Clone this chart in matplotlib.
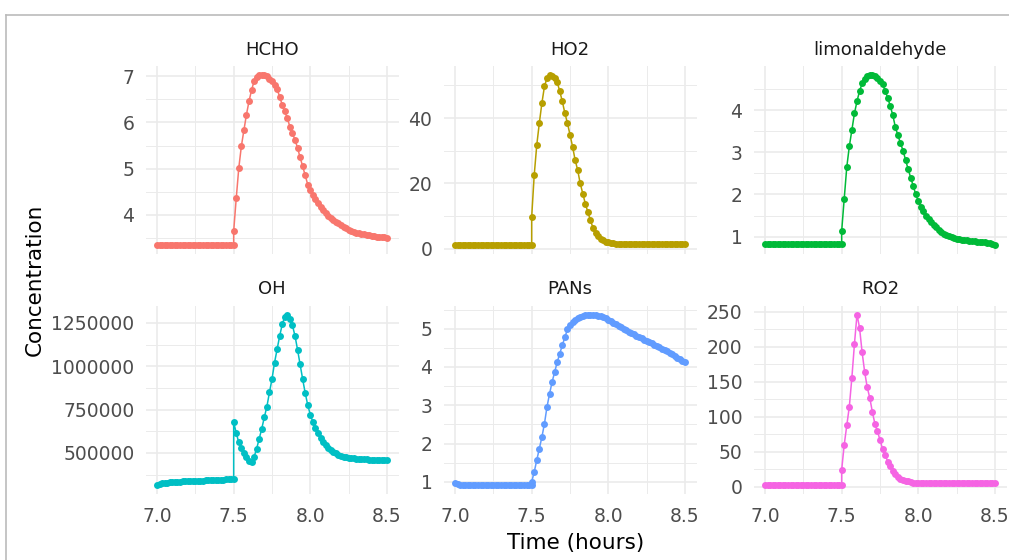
import numpy as np
import matplotlib
matplotlib.use("Agg")
import matplotlib.pyplot as plt
from matplotlib.lines import Line2D

# ---------------- data ----------------
# time grid in minutes: first stage 7.0-7.5 h, second stage 7.5-8.5 h (restart at 7.5 h)
minutes_pre = np.arange(420, 451)
minutes_post = np.arange(450, 511)

species = ["HCHO", "HO2", "limonaldehyde", "OH", "PANs", "RO2"]
colors = ["#F8766D", "#B79F00", "#00BA38", "#00BFC4", "#619CFF", "#F564E3"]

hcho_pre = [3.33, 3.33, 3.33, 3.33, 3.33, 3.33, 3.33, 3.33, 3.33, 3.33, 3.33,
            3.33, 3.33, 3.33, 3.33, 3.33, 3.33, 3.33, 3.33, 3.33, 3.33,
            3.33, 3.33, 3.33, 3.33, 3.33, 3.33, 3.33, 3.33, 3.33, 3.33]
hcho_post = [3.64, 4.35, 5.01, 5.48, 5.83, 6.17, 6.46, 6.70, 6.90, 6.98,
             7.02, 7.03, 7.02, 7.00, 6.95, 6.90, 6.82, 6.72, 6.56, 6.38,
             6.24, 6.09, 5.91, 5.77, 5.62, 5.45, 5.24, 5.05, 4.85, 4.65,
             4.53, 4.43, 4.34, 4.26, 4.17, 4.10, 4.04, 3.98, 3.93, 3.89,
             3.85, 3.81, 3.77, 3.74, 3.70, 3.67, 3.65, 3.63, 3.61, 3.595,
             3.58, 3.57, 3.56, 3.55, 3.54, 3.53, 3.52, 3.515, 3.51, 3.505, 3.50]

ho2_pre = [1.0, 1.0, 1.0, 1.0, 1.0, 1.0, 1.0, 1.0, 1.0, 1.0, 1.0,
           1.0, 1.0, 1.0, 1.0, 1.0, 1.0, 1.0, 1.0, 1.0, 1.0,
           1.0, 1.0, 1.0, 1.0, 1.0, 1.0, 1.0, 1.0, 1.0, 1.0]
ho2_post = [9.7, 22.6, 31.8, 38.5, 44.6, 49.7, 52.3, 53.2, 53.0, 52.4,
            51.0, 48.2, 45.1, 41.5, 38.5, 34.9, 31.3, 27.2, 24.1, 20.0,
            16.9, 13.8, 11.2, 8.7, 6.4, 4.8, 3.8, 3.1, 2.6, 2.2,
            2.0, 1.8, 1.7, 1.6, 1.55, 1.5, 1.5, 1.5, 1.5, 1.5,
            1.5, 1.48, 1.48, 1.47, 1.47, 1.46, 1.46, 1.45, 1.45, 1.45,
            1.44, 1.44, 1.44, 1.43, 1.43, 1.43, 1.42, 1.42, 1.42, 1.41, 1.41]

limon_pre = [0.82, 0.82, 0.82, 0.82, 0.82, 0.82, 0.82, 0.82, 0.82, 0.82, 0.82,
             0.82, 0.82, 0.82, 0.82, 0.82, 0.82, 0.82, 0.82, 0.82, 0.82,
             0.82, 0.82, 0.82, 0.82, 0.82, 0.82, 0.82, 0.82, 0.82, 0.82]
limon_post = [1.13, 1.90, 2.65, 3.14, 3.53, 3.92, 4.21, 4.45, 4.63, 4.74,
              4.80, 4.83, 4.83, 4.81, 4.77, 4.70, 4.61, 4.46, 4.29, 4.10,
              3.88, 3.60, 3.40, 3.22, 3.04, 2.82, 2.60, 2.40, 2.20, 2.00,
              1.84, 1.71, 1.60, 1.50, 1.42, 1.35, 1.28, 1.22, 1.16, 1.11,
              1.07, 1.04, 1.01, 0.99, 0.97, 0.955, 0.94, 0.93, 0.92, 0.91,
              0.90, 0.895, 0.89, 0.88, 0.875, 0.87, 0.865, 0.86, 0.855, 0.83, 0.79]

oh_pre = [315000, 320000, 324000, 327000, 329000, 331000, 332000, 333000,
          334000, 335000, 336000, 336500, 337000, 337500, 338000, 338500,
          339000, 340000, 340500, 341000, 342000, 343000, 344000, 345000,
          345500, 346000, 346500, 347000, 347000, 347000, 347000]
oh_post = [677000, 615000, 560000, 528000, 500000, 475000, 455000, 447000, 477000, 525000,
           582000, 640000, 706000, 767000, 849000, 926000, 1021000, 1098000, 1174000, 1241000,
           1285000, 1298000, 1270000, 1235000, 1175000, 1095000, 1010000, 925000, 845000, 775000,
           720000, 678000, 642000, 612000, 586000, 564000, 546000, 531000, 518000, 507000,
           498000, 490000, 484000, 479000, 475000, 472000, 470000, 468000, 466000, 465000,
           464000, 463000, 462000, 461000, 460500, 460000, 459500, 459000, 459000, 458500, 458000]

pans_pre = [0.97, 0.94, 0.93, 0.92, 0.92, 0.92, 0.92, 0.92, 0.92, 0.92, 0.92,
            0.92, 0.92, 0.92, 0.92, 0.92, 0.92, 0.92, 0.92, 0.92, 0.92,
            0.92, 0.92, 0.92, 0.92, 0.92, 0.92, 0.92, 0.92, 0.92, 0.92]
pans_post = [1.0, 1.26, 1.57, 1.87, 2.17, 2.52, 2.96, 3.30, 3.61, 3.87,
             4.13, 4.35, 4.57, 4.78, 4.98, 5.10, 5.18, 5.24, 5.28, 5.31,
             5.33, 5.35, 5.36, 5.37, 5.37, 5.36, 5.34, 5.32, 5.30, 5.27,
             5.23, 5.19, 5.16, 5.12, 5.08, 5.04, 5.00, 4.96, 4.92, 4.88,
             4.85, 4.81, 4.78, 4.75, 4.71, 4.68, 4.65, 4.62, 4.58, 4.55,
             4.52, 4.48, 4.45, 4.41, 4.37, 4.33, 4.29, 4.24, 4.20, 4.16, 4.13]

ro2_pre = [2.5, 2.5, 2.5, 2.5, 2.5, 2.5, 2.5, 2.5, 2.5, 2.5, 2.5,
           2.5, 2.5, 2.5, 2.5, 2.5, 2.5, 2.5, 2.5, 2.5, 2.5,
           2.5, 2.5, 2.5, 2.5, 2.5, 2.5, 2.5, 2.5, 2.5, 2.5]
ro2_post = [24, 60, 87.5, 114.5, 156, 204, 246, 227, 192, 164,
            142, 127, 107, 90, 79, 67, 54, 46, 36, 29,
            22, 18, 14, 11.5, 10, 8.5, 7.5, 6.6, 6.0, 5.6,
            5.3, 5.1, 5.0, 5.0, 4.9, 4.9, 4.9, 4.9, 4.9, 4.9,
            4.9, 4.9, 4.9, 4.9, 4.9, 4.9, 4.9, 4.9, 4.9, 4.9,
            4.9, 4.9, 4.9, 4.9, 4.9, 4.9, 4.9, 4.9, 4.9, 4.9, 4.9]

series = {
    "HCHO": (hcho_pre, hcho_post),
    "HO2": (ho2_pre, ho2_post),
    "limonaldehyde": (limon_pre, limon_post),
    "OH": (oh_pre, oh_post),
    "PANs": (pans_pre, pans_post),
    "RO2": (ro2_pre, ro2_post),
}

x_ticks = [7.0, 7.5, 8.0, 8.5]
x_minor = [7.25, 7.75, 8.25]
y_ticks = {
    "HCHO": [4, 5, 6, 7],
    "HO2": [0, 20, 40],
    "limonaldehyde": [1, 2, 3, 4],
    "OH": [500000, 750000, 1000000, 1250000],
    "PANs": [1, 2, 3, 4, 5],
    "RO2": [0, 50, 100, 150, 200, 250],
}

# ---------------- figure ----------------
W, H = 1009, 560
fig = plt.figure(figsize=(W / 100, H / 100), dpi=100)
fig.patch.set_facecolor("white")
plt.rcParams["font.family"] = ["DejaVu Sans"]

cols = [(145.5, 398.5), (443.5, 696.5), (753.5, 1006.5)]
rows = [(66.5, 254.0), (306.0, 493.5)]

grid_col = "#EBEBEB"
tick_col = "#4D4D4D"
fs_tick = 13.5
fs_strip = 13
fs_title = 15.5

for idx, name in enumerate(species):
    r, c = divmod(idx, 3)
    x0, x1 = cols[c]
    y0, y1 = rows[r]
    ax = fig.add_axes([x0 / W, 1 - y1 / H, (x1 - x0) / W, (y1 - y0) / H])
    pre, post = series[name]
    t = np.concatenate([minutes_pre, minutes_post]) / 60.0
    v = np.concatenate([pre, post])
    ax.plot(t, v, color=colors[idx], lw=1.1, marker="o", ms=5.0,
            markeredgewidth=0, zorder=3)
    ax.margins(x=0.05, y=0.05)
    ax.set_xlim(7.0 - 0.075, 8.5 + 0.075)

    yt = y_ticks[name]
    ylo, yhi = ax.get_ylim()
    step = yt[1] - yt[0]
    minors = []
    m = yt[0] - step / 2
    while m > ylo:
        minors.append(m)
        m -= step
    m = yt[0] + step / 2
    while m < yhi:
        minors.append(m)
        m += step
    minors = [mm for mm in minors if mm not in yt]
    ax.set_yticks(yt)
    ax.set_yticklabels([f"{y:g}" if name != "OH" else f"{int(y)}" for y in yt])
    ax.set_yticks(minors, minor=True)
    ax.set_xticks(x_ticks)
    ax.set_xticklabels([f"{x:.1f}" for x in x_ticks])
    ax.set_xticks(x_minor, minor=True)
    ax.set_ylim(ylo, yhi)

    ax.grid(which="major", color=grid_col, lw=1.2, zorder=0)
    ax.grid(which="minor", color=grid_col, lw=0.7, zorder=0)
    ax.set_axisbelow(True)
    for s in ax.spines.values():
        s.set_visible(False)
    ax.tick_params(which="both", length=0)
    ax.tick_params(axis="y", labelsize=fs_tick, labelcolor=tick_col, pad=8)
    ax.tick_params(axis="x", labelsize=fs_tick, labelcolor=tick_col, pad=10)
    if r == 0:
        ax.tick_params(axis="x", labelbottom=False)

    hpx = y1 - y0
    ax.text(0.5, 1 + 16.5 / hpx, name, transform=ax.transAxes, ha="center",
            va="center", fontsize=fs_strip, color="#1A1A1A")

fig.text(35 / W, 1 - 280 / H, "Concentration", rotation=90, ha="center",
         va="center", fontsize=fs_title, color="black")
fig.text(576 / W, 1 - 543 / H, "Time (hours)", ha="center", va="center",
         fontsize=fs_title, color="black")

# screenshot frame
fig.add_artist(Line2D([6 / W, 1.0], [1 - 15 / H, 1 - 15 / H], transform=fig.transFigure,
                      color="#BBBBBB", lw=1.2))
fig.add_artist(Line2D([6 / W, 6 / W], [1 - 15 / H, 0.0], transform=fig.transFigure,
                      color="#BBBBBB", lw=1.2))

fig.savefig("out.png", dpi=100, facecolor="white")
